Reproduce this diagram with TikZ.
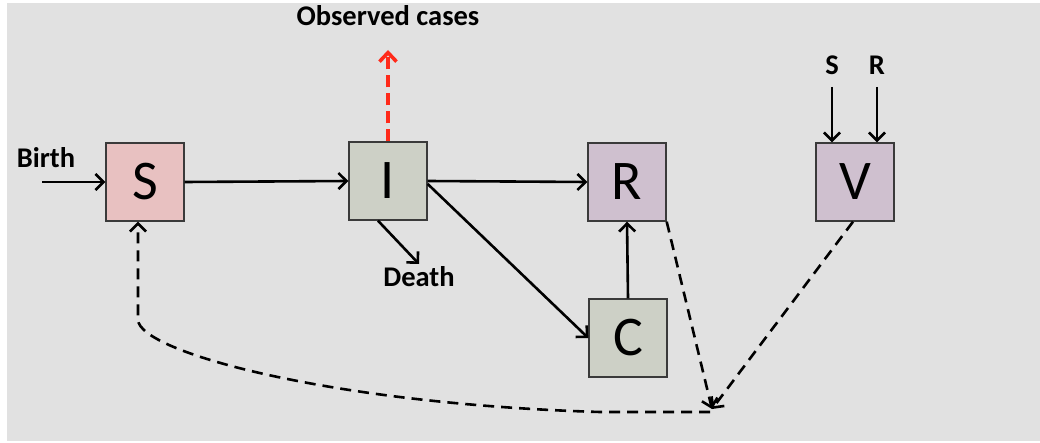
\documentclass[tikz,border=0pt]{standalone}
\usepackage{fontspec}
\setmainfont{Carlito}
\usetikzlibrary{arrows.meta,calc}
\definecolor{bg}{HTML}{E1E1E1}
\definecolor{sfill}{HTML}{E8C1C1}
\definecolor{ifill}{HTML}{CDD0C6}
\definecolor{rfill}{HTML}{CFC0CF}
\definecolor{edge}{HTML}{3A3A3A}
\definecolor{obsred}{HTML}{FF2A1A}
\tikzset{
  comp/.style={draw=edge, line width=1.4pt, minimum width=78pt, minimum height=78pt,
    inner sep=0pt, font=\fontsize{56}{60}\selectfont},
  lab/.style={inner sep=0pt, anchor=base, font=\fontsize{28.5}{30}\selectfont\bfseries},
  flow/.style={line width=2.6pt, -{Straight Barb[length=8pt,width=16pt,line width=2.6pt]}},
  dflow/.style={flow, dash pattern=on 11pt off 7pt},
  obs/.style={line width=3.6pt, obsred, dash pattern=on 12pt off 6pt,
    -{Straight Barb[length=9pt,width=17pt,line width=3.6pt]}}
}
\begin{document}
\begin{tikzpicture}[x=1pt,y=-1pt]
\useasboundingbox (0,0) rectangle (1040,443);
\fill[white] (0,0) rectangle (1040,443);
\fill[bg] (7,3) rectangle (1040,441);

\node[comp, fill=sfill] (S) at (145,182) {S};
\node[comp, fill=ifill] (I) at (388,181) {I};
\node[comp, fill=rfill] (R) at (627,182) {R};
\node[comp, fill=rfill] (V) at (855,182) {V};
\node[comp, fill=ifill] (C) at (628,338) {C};

\node[lab] (Obs) at (388,26) {Observed cases};
\node[lab] (Birth) at (46,168) {Birth};
\node[lab] (Death) at (419,287) {Death};
\node[lab] (VS) at (832,75) {S};
\node[lab] (VR) at (877,75) {R};

\coordinate (birthin) at (42,182);
\coordinate (obsend) at (388,50);
\coordinate (deathend) at (419,264);
\coordinate (m) at (712,409);

\draw[flow] (birthin) -- (S.west);
\draw[flow] (S.east) -- (I.west);
\draw[flow] (I.east) -- (R.west);
\draw[flow] ([yshift=-3pt]I.east) -- (C.west);
\draw[flow] (C.north) -- (R.south);
\draw[flow] ([xshift=-10pt]I.south) -- (deathend);
\draw[flow, shorten <=12pt] (VS.base) -- (VS.base |- V.north);
\draw[flow, shorten <=12pt] (VR.base) -- (VR.base |- V.north);
\draw[obs] (I.north) -- (obsend);

\draw[dflow] (R.south east) -- (m);
\draw[dflow] ([xshift=-2pt]V.south) -- (m);
\draw[dflow] ([xshift=-2pt,yshift=-3pt]m) -- (600,412)
  .. controls (330,404) and (140,352) .. (138,320) -- ([xshift=-7pt]S.south);
\end{tikzpicture}
\end{document}
